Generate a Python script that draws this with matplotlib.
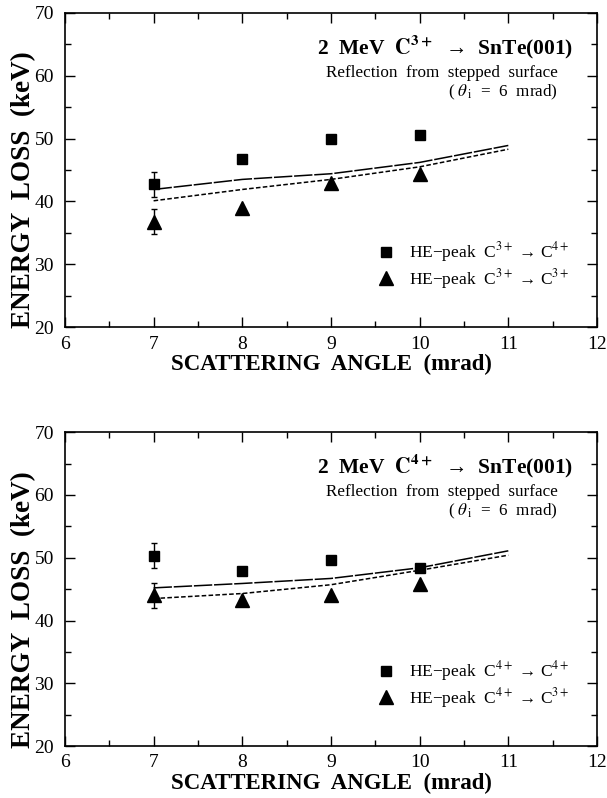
import matplotlib
matplotlib.use('Agg')
import matplotlib.pyplot as plt
from matplotlib.lines import Line2D

plt.rcParams['font.family'] = ['Liberation Serif', 'DejaVu Serif']
plt.rcParams['mathtext.fontset'] = 'stix'

# scattering angle (mrad)
angle = [7, 8, 9, 10]
calc_angle = [7, 8, 9, 10, 11]

# top panel: 2 MeV C3+
top_sq = [42.7, 46.7, 49.9, 50.5]
top_sq_err = [2.0, 0, 0, 0]
top_tri = [36.8, 38.9, 42.9, 44.4]
top_tri_err = [2.0, 0, 0, 0]
top_solid = [41.9, 43.5, 44.4, 46.2, 48.9]
top_dash = [40.1, 41.9, 43.5, 45.5, 48.3]

# bottom panel: 2 MeV C4+
bot_sq = [50.3, 47.9, 49.6, 48.3]
bot_sq_err = [2.0, 0, 0, 0]
bot_tri = [44.0, 43.3, 44.1, 45.8]
bot_tri_err = [2.0, 0, 0, 0]
bot_solid = [45.2, 45.9, 46.7, 48.4, 51.1]
bot_dash = [43.5, 44.3, 45.7, 48.0, 50.4]

panels = [
    ('3+', top_sq, top_sq_err, top_tri, top_tri_err, top_solid, top_dash,
     'HE\u2212peak  C$^{3+}$ \u2192 C$^{4+}$', 'HE\u2212peak  C$^{3+}$ \u2192 C$^{3+}$'),
    ('4+', bot_sq, bot_sq_err, bot_tri, bot_tri_err, bot_solid, bot_dash,
     'HE\u2212peak  C$^{4+}$ \u2192 C$^{4+}$', 'HE\u2212peak  C$^{4+}$ \u2192 C$^{3+}$'),
]

fig = plt.figure(figsize=(6.07, 7.98), dpi=100)
rects = [[0.107, 0.590, 0.8765, 0.394], [0.107, 0.065, 0.8765, 0.3935]]

for rect, p in zip(rects, panels):
    charge, sq, sqe, tri, trie, solid, dash, lab1, lab2 = p
    ax = fig.add_axes(rect)
    ax.plot(calc_angle, solid, color='black', lw=1.1, dashes=[12, 1.2])
    ax.plot(calc_angle, dash, color='black', lw=1.1, dashes=[3, 1.5])
    ax.errorbar(angle, sq, yerr=sqe, fmt='s', color='black', ms=7.5,
                capsize=2, elinewidth=1, capthick=1)
    ax.errorbar(angle, tri, yerr=trie, fmt='^', color='black', ms=9.5,
                capsize=2, elinewidth=1, capthick=1)
    ax.set_xlim(6, 12)
    ax.set_ylim(20, 70)
    ax.set_xticks(range(6, 13))
    ax.set_yticks(range(20, 71, 10))
    ax.set_xticks([6.5 + i for i in range(6)], minor=True)
    ax.set_yticks([25 + 10 * i for i in range(5)], minor=True)
    ax.tick_params(which='both', direction='in', top=True, right=True,
                   labelsize=14, width=1)
    ax.tick_params(axis='x', which='major', pad=6)
    ax.tick_params(axis='y', which='major', pad=8)
    ax.tick_params(which='major', length=7)
    ax.tick_params(which='minor', length=4)
    for s in ax.spines.values():
        s.set_linewidth(1.2)
    ax.set_xlabel('SCATTERING  ANGLE  (mrad)', fontsize=16.5, fontweight='bold')
    ax.xaxis.label.set_va('center')
    ax.xaxis.set_label_coords(0.5, -0.118)
    ax.set_ylabel('ENERGY  LOSS  (keV)', fontsize=19.5, fontweight='bold')
    ax.yaxis.label.set_va('center')
    ax.yaxis.set_label_coords(-0.078, 0.436)
    ax.text(0.955, 0.891, '2  MeV  $\\mathbf{C^{' + charge + '}}$  \u2192  SnTe(001)',
            transform=ax.transAxes, ha='right', va='center',
            fontsize=15.5, fontweight='bold')
    ax.text(0.927, 0.808, 'Reflection  from  stepped  surface',
            transform=ax.transAxes, ha='right', va='center', fontsize=12.3)
    ax.text(0.927, 0.747, '( $\\theta_{\\,\\mathrm{i}}$  =  6  mrad)',
            transform=ax.transAxes, ha='right', va='center', fontsize=12.3)
    h1 = Line2D([], [], ls='none', marker='s', color='black', ms=7.5)
    h2 = Line2D([], [], ls='none', marker='^', color='black', ms=9.5)
    ax.legend(handles=[h1, h2], labels=[lab1, lab2], loc='center left',
              frameon=False, fontsize=12.5, bbox_to_anchor=(0.584, 0.196),
              handlelength=1.2, handletextpad=0.7, labelspacing=0.15,
              borderpad=0, borderaxespad=0)

fig.savefig('out.png', dpi=100)
